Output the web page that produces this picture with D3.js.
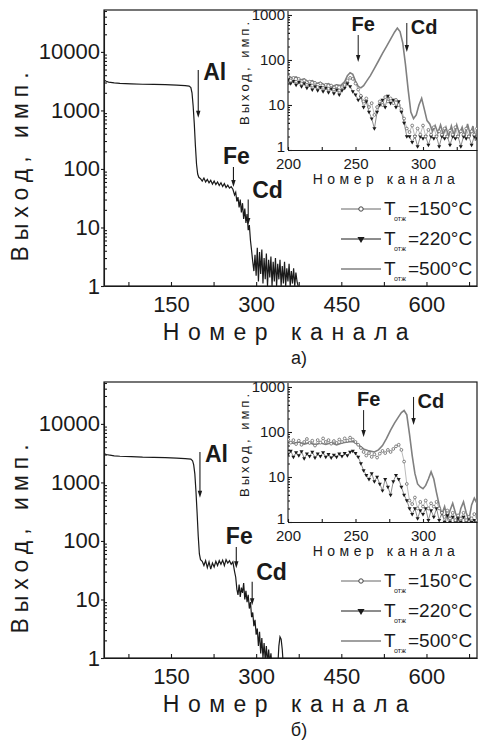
<!DOCTYPE html>
<html>
<head>
<meta charset="utf-8">
<script src="https://cdn.jsdelivr.net/npm/d3@7"></script>
<style>
  body { margin: 0; background: #fff; }
  svg { display: block; }
  text { font-family: "Liberation Sans", Arial, sans-serif; fill: #1a1a1a; }
</style>
</head>
<body>
<svg id="chart" width="478" height="742"></svg>
<script>
// ---- data: main spectra [channel, counts] ----
let mainTop = [[32,3300],[36,3150],[40,3050],[50,2950],[60,2900],[80,2850],[100,2800],[120,2780],[140,2750],[160,2700],[175,2650],[182,2600],[185,2450],[187,2000],[189,1200],[191,600],[193,250],[195,120],[197,82],[199,72],[202,68],[205,62],[208,70],[211,60],[214,66],[217,58],[220,64],[223,55],[226,62],[229,54],[232,60],[235,52],[238,58],[241,50],[244,56],[247,48],[250,53],[253,47],[256,50],[259,45],[262,36],[264,40],[266,28],[268,33],[270,22],[272,30],[274,18],[276,26],[278,14],[280,21],[282,12],[284,17],[286,9],[288,11],[290,6],[292,4],[294,2.6],[296,1.8],[298,3.4],[300,1.5],[302,4.5],[304,1.2],[306,3.8],[308,1.6],[310,4.2],[312,1.1],[314,3],[316,1.3],[318,3.6],[320,1],[322,2.8],[324,1.4],[326,3.2],[328,1],[330,2.6],[332,1.2],[334,3],[336,1],[338,2.4],[340,1.3],[342,2.8],[344,1],[346,2.2],[348,1.1],[350,2.6],[352,1],[354,2],[356,1.2],[358,2.4],[360,1],[362,1.8],[364,1.1],[366,2],[368,1],[370,1.7],[372,1.2],[375,0.9]];

let mainBottom = [[32,3100],[36,3000],[40,2950],[50,2850],[60,2800],[80,2750],[100,2700],[120,2680],[140,2650],[160,2600],[175,2550],[185,2500],[188,2350],[190,2000],[192,1400],[194,700],[196,300],[198,120],[200,60],[202,48],[205,45],[208,38],[211,46],[214,35],[217,44],[220,33],[223,42],[226,36],[229,45],[232,38],[235,46],[238,40],[241,47],[244,38],[247,48],[250,42],[253,46],[256,40],[259,44],[262,30],[264,24],[266,15],[268,12],[270,18],[272,11],[274,16],[276,13],[278,19],[280,10],[282,14],[284,9],[286,12],[288,7],[290,9],[292,5],[294,6],[296,3.5],[298,4.5],[300,2.5],[302,3.2],[304,1.6],[306,2.8],[308,1.2],[310,2.2],[312,1],[314,1.8],[316,0.9],[318,1.6],[320,0.8],[322,1.4],[324,0.8],[326,1.2],[328,0.7],[338,0.7],[340,1.6],[342,2.3],[344,2.1],[346,1.4],[348,0.7]];

// ---- data: inset spectra ----
let insetCh = [200,202,204,206,208,210,212,214,216,218,220,222,224,226,228,230,232,234,236,238,240,242,244,246,248,250,252,254,256,258,260,262,264,266,268,270,272,274,276,278,280,282,284,286,288,290,292,294,296,298,300,302,304,306,308,310,312,314,316,318,320,322,324,326,328,330,332,334,336,338,340];

let topInset150 = [42,35,40,33,38,30,35,28,33,27,31,25,30,24,28,23,27,22,26,21,25,
  28,35,40,38,30,22,16,12,14,9,11,6,9,12,10,15,12,14,11,13,10,8,5,
  3,2.5,3.5,2,3,2.2,3.5,2,2.8,2.2,3.2,2,2.6,2.2,3,2,2.7,2.2,3.2,2,2.6,2.2,3,2,2.6,2.2,3];
let topInset220 = [36,30,34,28,32,26,30,24,28,22,26,21,25,20,24,19,23,18,22,17,21,
  24,30,26,20,17,13,15,9,12,7,5,3,7,10,13,9,16,11,13,9,12,7,4,
  2,2,1.5,2,1.2,2,1.8,2,1.3,2,1.8,2,1.2,2,1.8,2,1.3,2,1.8,2,1.2,2,1.8,2,1.3,2,1.8];
let topInset500 = [[200,45],[203,40],[206,42],[209,36],[212,38],[215,33],[218,35],[221,30],[224,32],[227,28],[230,30],[233,26],[236,28],[239,27],[242,33],[244,45],[246,52],[248,48],[250,34],[252,26],[254,24],[256,27],[258,33],[261,45],[264,65],[267,95],[270,140],[273,200],[276,290],[279,420],[281,510],[283,430],[285,240],[287,80],[289,22],[291,7],[293,5],[295,6],[297,10],[299,14],[301,8],[303,4.5],[305,3.8],[307,2.6],[309,3.5],[311,2.4],[313,3.6],[315,2.2],[317,3.2],[319,2],[321,3.4],[323,2.1],[325,3.6],[327,2.3],[329,3.2],[331,1.9],[333,3.8],[335,2.2],[337,3.4],[339,1.6]];

let bottomInset150 = [68,58,66,54,64,52,60,70,57,64,50,66,58,72,60,66,55,63,57,68,60,72,64,75,68,60,
  52,44,36,30,34,28,32,27,33,38,34,40,36,42,48,52,40,22,
  7,3,2.5,3.5,2,2.8,2.2,3,2,2.6,2.2,2.8,2,1.6,1.3,1.8,1.2,1.6,1.1,1.4,1.2,1.6,1.1,1.3,1.2,1.5,1.1];
let bottomInset220 = [32,38,28,35,30,37,26,33,29,36,27,33,29,35,28,32,27,31,28,33,29,34,30,36,38,34,
  28,20,14,11,9,12,8,10,7,5,9,6,4,8,11,9,6,4,
  3,2,1.5,2,1.2,1.8,1.5,2,1.1,1.8,1.3,2,1.1,1.6,1,1.4,1,1.3,1,1.2,1,1.3,1,1.2,1,1.1,1];
let bottomInset500 = [[200,62],[204,56],[208,60],[212,54],[216,58],[220,52],[224,57],[228,53],[232,58],[236,52],[240,57],[244,60],[248,62],[252,52],[256,42],[260,38],[264,36],[267,40],[270,50],[273,72],[276,110],[279,160],[282,220],[284,270],[286,300],[288,240],[290,90],[292,30],[294,12],[296,7],[298,6],[300,5.5],[302,6.5],[304,9],[306,13],[308,9],[310,4.5],[312,2.4],[314,1.5],[316,2.2],[318,1.2],[320,1.8],[322,2.6],[324,1.6],[326,1.1],[328,2],[330,2.8],[332,1.6],[334,1.1],[336,2.4],[338,3.4],[340,2.6]];

// ---- ticks / labels ----
let mainXTicks = [75,150,225,300,375,450,525,600,675];
let mainYTicks = [1,10,100,1000,10000];
let insetXTicks = [200,225,250,275,300,325];
let insetYTicks = [1,10,100,1000];
let legendLabels = ['=150°C', '=220°C', '=500°C'];

// element markers: [label, channel, arrow start counts, arrow end counts]
let mainMarksTop = [['Al',198,4900,750],['Fe',260,108,49],['Cd',286,30,11]];
let mainMarksBottom = [['Al',201,3300,545],['Fe',265,79,34],['Cd',293,20,8]];
let insetMarksTop = [['Fe',252,359,90],['Cd',288,664,150]];
let insetMarksBottom = [['Fe',256,307,77],['Cd',293,600,143]];

const svg = d3.select('#chart');
const ink = '#1a1a1a';
const grey = '#808080';

function arrow(g, x0, y0, y1, w) {
  g.append('line').attr('x1', x0).attr('x2', x0).attr('y1', y0).attr('y2', y1 - 5)
    .attr('stroke', ink).attr('stroke-width', w);
  g.append('path').attr('d', `M${x0 - 2.2},${y1 - 7}L${x0 + 2.2},${y1 - 7}L${x0},${y1}Z`).attr('fill', ink);
}

function styleAxis(a, size) {
  a.selectAll('path, line').attr('stroke', ink).attr('stroke-width', 1.1);
  a.selectAll('text').attr('fill', ink).style('font-size', size + 'px');
}

function drawPanel(offsetY, id, mainData, mainMarks, ins, insMarks, tag) {
  let g = svg.append('g').attr('transform', `translate(0,${offsetY})`);
  let x = d3.scaleLinear().domain([32, 689]).range([104, 477]);
  let y = d3.scaleLog().domain([1, 52000]).range([276, 0]);

  g.append('clipPath').attr('id', 'main' + id).append('rect')
    .attr('x', 104).attr('y', 0).attr('width', 373).attr('height', 276);

  // axes
  let xa = g.append('g').attr('transform', 'translate(0,276)')
    .call(d3.axisBottom(x).tickValues(mainXTicks).tickSize(-4).tickSizeOuter(0).tickPadding(10)
      .tickFormat(d => d % 150 === 0 ? d : ''));
  styleAxis(xa, 22);
  let ya = g.append('g').attr('transform', 'translate(104,0)')
    .call(d3.axisLeft(y).tickValues(mainYTicks).tickSize(3).tickSizeOuter(0).tickPadding(1).tickFormat(d3.format('d')));
  styleAxis(ya, 22);
  let minor = y.ticks().filter(t => mainYTicks.indexOf(t) < 0);
  let ym = g.append('g').attr('transform', 'translate(104,0)')
    .call(d3.axisLeft(y).tickValues(minor).tickSize(-3).tickSizeOuter(0).tickFormat(''));
  styleAxis(ym, 10);
  ym.select('.domain').remove();
  g.append('rect').attr('x', 104).attr('y', 0).attr('width', 373).attr('height', 276)
    .attr('fill', 'none').attr('stroke', ink).attr('stroke-width', 1.2);

  // titles
  g.append('text').attr('x', 290).attr('y', 330).attr('text-anchor', 'middle')
    .style('font-size', '23px').style('letter-spacing', '8.5px').text('Номер канала');
  g.append('text').attr('transform', 'translate(28,154) rotate(-90)').attr('text-anchor', 'middle')
    .style('font-size', '23px').style('letter-spacing', '6px').text('Выход, имп.');
  g.append('text').attr('x', 299).attr('y', 354).attr('text-anchor', 'middle')
    .style('font-size', '18px').text(tag);

  // main curve
  let line = d3.line().x(d => x(d[0])).y(d => y(Math.max(d[1], 0.5)));
  g.append('path').datum(mainData).attr('clip-path', `url(#main${id})`)
    .attr('d', line).attr('fill', 'none').attr('stroke', ink).attr('stroke-width', 1.2);

  // element arrows
  mainMarks.forEach(m => {
    let ax = x(m[1]), y0 = y(m[2]), y1 = y(m[3]);
    arrow(g, ax, y0, y1, 1.1);
    let t = g.append('text').style('font-size', '23px').style('font-weight', 'bold').text(m[0]);
    if (m[0] === 'Al') t.attr('x', ax + 5).attr('y', y0 + 10);
    if (m[0] === 'Fe') t.attr('x', ax + 3).attr('y', y0 - 3).attr('text-anchor', 'middle');
    if (m[0] === 'Cd') t.attr('x', ax + 4).attr('y', y0 - 2);
  });

  // ---- inset ----
  let ix = d3.scaleLinear().domain([200, 340]).range([288, 477]);
  let iy = d3.scaleLog().domain([1, 1000]).range([140, 5]);
  g.append('clipPath').attr('id', 'ins' + id).append('rect')
    .attr('x', 288).attr('y', 0).attr('width', 189).attr('height', 140);

  let ixa = g.append('g').attr('transform', 'translate(0,140)')
    .call(d3.axisBottom(ix).tickValues(insetXTicks).tickSize(-3).tickSizeOuter(0).tickPadding(8)
      .tickFormat(d => d % 50 === 0 ? d : ''));
  styleAxis(ixa, 15);
  let iya = g.append('g').attr('transform', 'translate(288,0)')
    .call(d3.axisLeft(iy).tickValues(insetYTicks).tickSize(-4).tickSizeOuter(0).tickPadding(3).tickFormat(d3.format('d')));
  styleAxis(iya, 15);
  iya.select('.domain').attr('d', 'M0,1V140');
  let iminor = iy.ticks().filter(t => insetYTicks.indexOf(t) < 0);
  let iym = g.append('g').attr('transform', 'translate(288,0)')
    .call(d3.axisLeft(iy).tickValues(iminor).tickSize(-2).tickSizeOuter(0).tickFormat(''));
  styleAxis(iym, 10);
  iym.select('.domain').remove();
  [ixa, iya].forEach(a => a.selectAll('text')
    .style('font-family', '"Liberation Sans Narrow", "Liberation Sans", Arial, sans-serif').attr('fill', '#333'));
  // the "1" label sits just above the first x label, as in the source figure
  iya.selectAll('.tick').filter(d => d === 1).select('text').attr('dy', '0.1em');

  g.append('text').attr('x', 386).attr('y', 174).attr('text-anchor', 'middle').attr('fill', '#666')
    .style('font-size', '14px').style('letter-spacing', '4.5px').text('Номер канала');
  g.append('text').attr('transform', 'translate(249,62) rotate(-90)').attr('text-anchor', 'middle').attr('fill', '#777')
    .style('font-size', '13px').style('letter-spacing', '3px').text('Выход, имп.');

  let iline = d3.line().x(d => ix(d[0])).y(d => iy(Math.max(d[1], 0.7)));
  let clip = `url(#ins${id})`;
  let s150 = insetCh.map((c, i) => [c, ins.a[i]]);
  let s220 = insetCh.map((c, i) => [c, ins.b[i]]);

  g.append('path').datum(s220).attr('clip-path', clip).attr('d', iline)
    .attr('fill', 'none').attr('stroke', ink).attr('stroke-width', 0.5);
  g.append('path').datum(s150).attr('clip-path', clip).attr('d', iline)
    .attr('fill', 'none').attr('stroke', '#777').attr('stroke-width', 0.5);
  g.append('path').datum(ins.c).attr('clip-path', clip).attr('d', iline)
    .attr('fill', 'none').attr('stroke', grey).attr('stroke-width', 1.6);

  let tri = d3.symbol().type(d3.symbolTriangle).size(7);
  g.append('g').attr('clip-path', clip).selectAll('path').data(s220).join('path')
    .attr('d', tri).attr('fill', ink)
    .attr('transform', d => `translate(${ix(d[0])},${iy(Math.max(d[1], 0.7))}) rotate(180)`);
  g.append('g').attr('clip-path', clip).selectAll('circle').data(s150).join('circle')
    .attr('cx', d => ix(d[0])).attr('cy', d => iy(Math.max(d[1], 0.7))).attr('r', 1.4)
    .attr('fill', '#fff').attr('stroke', '#666').attr('stroke-width', 0.8);

  insMarks.forEach(m => {
    let ax = ix(m[1]), y0 = iy(m[2]), y1 = iy(m[3]);
    arrow(g, ax, y0, y1, 1);
    let t = g.append('text').style('font-size', '20px').style('font-weight', 'bold').text(m[0]);
    if (m[0] === 'Fe') t.attr('x', ax + 5).attr('y', y0 - 4).attr('text-anchor', 'middle');
    if (m[0] === 'Cd') t.attr('x', ax + 4).attr('y', y0 + 11);
  });

  // ---- legend ----
  let rows = [199, 229, 259];
  legendLabels.forEach((lab, i) => {
    let ly = rows[i];
    let col = i === 0 ? '#666' : (i === 1 ? ink : grey);
    g.append('line').attr('x1', 341).attr('x2', 381).attr('y1', ly).attr('y2', ly)
      .attr('stroke', col).attr('stroke-width', i === 2 ? 1.6 : 1);
    if (i === 0) g.append('circle').attr('cx', 361).attr('cy', ly).attr('r', 2.2)
      .attr('fill', '#fff').attr('stroke', '#444').attr('stroke-width', 1);
    if (i === 1) g.append('path').attr('d', d3.symbol().type(d3.symbolTriangle).size(22))
      .attr('transform', `translate(361,${ly}) rotate(180)`).attr('fill', ink);
    g.append('text').attr('x', 384).attr('y', ly + 6).style('font-size', '19px').text('T');
    g.append('text').attr('x', 394).attr('y', ly + 12).style('font-size', '7px').text('отж');
    g.append('text').attr('x', 408).attr('y', ly + 6).style('font-size', '19px').text(lab);
  });
}

drawPanel(10, 'a', mainTop, mainMarksTop, {a: topInset150, b: topInset220, c: topInset500}, insetMarksTop, 'а)');
drawPanel(382, 'b', mainBottom, mainMarksBottom, {a: bottomInset150, b: bottomInset220, c: bottomInset500}, insetMarksBottom, 'б)');
</script>
</body>
</html>
